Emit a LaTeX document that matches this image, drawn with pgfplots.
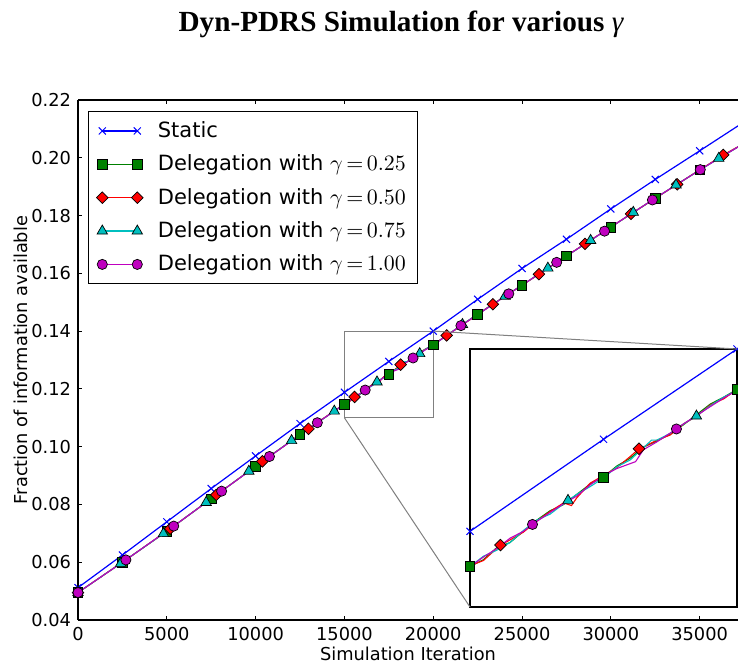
\documentclass[border=0pt]{standalone}
\usepackage[no-math]{fontspec}
\setmainfont{DejaVu Sans}
\newfontfamily\titlefont{Liberation Serif}
\usepackage{pgfplots}
\pgfplotsset{compat=1.18}
\usepackage{pgfplotstable}

\definecolor{mgreen}{rgb}{0,0.5,0}
\definecolor{mcyan}{rgb}{0,0.75,0.75}
\definecolor{mmag}{rgb}{0.75,0,0.75}

% static strategy
\pgfplotstableread{
x y
0 0.0512
2500 0.0625
5000 0.0740
7500 0.0855
10000 0.0968
12500 0.1080
15000 0.1188
17500 0.1295
20000 0.1400
22500 0.1510
25000 0.1617
27500 0.1718
30000 0.1823
32500 0.1925
35000 0.2024
37500 0.2124
}\staticline
\pgfplotstableread{
x y
0 0.0512
2500 0.0625
5000 0.0740
7500 0.0855
10000 0.0968
12500 0.1080
15000 0.1188
17500 0.1295
20000 0.1400
22500 0.1510
25000 0.1617
27500 0.1718
30000 0.1823
32500 0.1925
35000 0.2024
}\staticmarks

% gamma = 0.25
\pgfplotstableread{
x y
0 0.0495
2500 0.0600
5000 0.0707
7500 0.0820
10000 0.0932
12500 0.1042
15000 0.1147
15250 0.1155
15500 0.1169
15750 0.1175
16000 0.1188
16250 0.1201
16500 0.1212
16750 0.1219
17000 0.1231
17250 0.1243
17500 0.1251
17750 0.1264
18000 0.1273
18250 0.1286
18500 0.1293
18750 0.1301
19000 0.1312
19250 0.1324
19500 0.1336
19750 0.1344
20000 0.1353
22500 0.1459
25000 0.1559
27500 0.1660
30000 0.1760
32500 0.1860
35000 0.1958
37500 0.2050
}\gaaline
\pgfplotstableread{
x y
0 0.0495
2500 0.0600
5000 0.0707
7500 0.0820
10000 0.0932
12500 0.1042
15000 0.1147
17500 0.1251
20000 0.1353
22500 0.1459
25000 0.1559
27500 0.1660
30000 0.1760
32500 0.1860
35000 0.1958
}\gaamarks

% gamma = 0.50
\pgfplotstableread{
x y
0 0.0495
2595 0.0604
5190 0.0716
7785 0.0833
10380 0.0949
12975 0.1062
15000 0.1148
15250 0.1154
15570 0.1172
15750 0.1178
16000 0.1187
16250 0.1200
16500 0.1211
16750 0.1221
16900 0.1218
17000 0.1227
17250 0.1244
17500 0.1253
17750 0.1262
18000 0.1275
18165 0.1284
18250 0.1286
18500 0.1294
18750 0.1300
19000 0.1313
19250 0.1322
19500 0.1335
19750 0.1342
20000 0.1353
20760 0.1385
23355 0.1493
25950 0.1597
28545 0.1702
31140 0.1806
33735 0.1908
36330 0.2010
37500 0.2050
}\gabline
\pgfplotstableread{
x y
0 0.0495
2595 0.0604
5190 0.0716
7785 0.0833
10380 0.0949
12975 0.1062
15570 0.1172
18165 0.1284
20760 0.1385
23355 0.1493
25950 0.1597
28545 0.1702
31140 0.1806
33735 0.1908
36330 0.2010
}\gabmarks

% gamma = 0.75
\pgfplotstableread{
x y
0 0.0495
2405 0.0596
4810 0.0699
7215 0.0807
9620 0.0915
12025 0.1021
14430 0.1123
15000 0.1147
15250 0.1159
15500 0.1166
15750 0.1175
16000 0.1189
16250 0.1201
16500 0.1208
16835 0.1224
17000 0.1231
17250 0.1240
17500 0.1250
17750 0.1263
18000 0.1271
18400 0.1294
18500 0.1294
18750 0.1302
19000 0.1313
19240 0.1322
19500 0.1334
19750 0.1344
20000 0.1352
21645 0.1423
24050 0.1521
26455 0.1618
28860 0.1714
31265 0.1811
33670 0.1906
36075 0.1998
37500 0.2050
}\gacline
\pgfplotstableread{
x y
0 0.0495
2405 0.0596
4810 0.0699
7215 0.0807
9620 0.0915
12025 0.1021
14430 0.1123
16835 0.1224
19240 0.1322
21645 0.1423
24050 0.1521
26455 0.1618
28860 0.1714
31265 0.1811
33670 0.1906
36075 0.1998
}\gacmarks

% gamma = 1.00
\pgfplotstableread{
x y
0 0.0495
2695 0.0608
5390 0.0725
8085 0.0846
10780 0.0966
13475 0.1083
15000 0.1147
15250 0.1158
15500 0.1168
15750 0.1180
16000 0.1188
16170 0.1196
16500 0.1210
16750 0.1220
17000 0.1229
17250 0.1242
17500 0.1253
17750 0.1261
18100 0.1269
18250 0.1283
18500 0.1292
18865 0.1307
19000 0.1313
19250 0.1323
19500 0.1333
19750 0.1343
20000 0.1352
21560 0.1419
24255 0.1529
26950 0.1638
29645 0.1746
32340 0.1854
35035 0.1959
37500 0.2050
}\gadline
\pgfplotstableread{
x y
0 0.0495
2695 0.0608
5390 0.0725
8085 0.0846
10780 0.0966
13475 0.1083
16170 0.1196
18865 0.1307
21560 0.1419
24255 0.1529
26950 0.1638
29645 0.1746
32340 0.1854
35035 0.1959
}\gadmarks

\pgfplotsset{
  stat/.style={blue, line width=0.6pt, mark=x, mark size=2.5pt, mark options={line width=0.5pt}},
  gsq/.style={mgreen, line width=0.55pt, mark=square*, mark size=2.4pt,
    mark options={fill=mgreen, draw=black, line width=0.35pt}},
  rdi/.style={red, line width=0.55pt, mark=square*, mark size=2.05pt,
    mark options={rotate=45, fill=red, draw=black, line width=0.35pt}},
  ctr/.style={mcyan, line width=0.55pt, mark=triangle*, mark size=3pt,
    mark options={fill=mcyan, draw=black, line width=0.35pt}},
  mci/.style={mmag, line width=0.55pt, mark=*, mark size=2.55pt,
    mark options={fill=mmag, draw=black, line width=0.35pt}},
}

\begin{document}
\begin{tikzpicture}
\useasboundingbox (0,0) rectangle (369pt,332.5pt);

\node[anchor=base] at (200.5pt,316.7pt)
  {\titlefont\fontsize{14.6}{16}\selectfont\bfseries Dyn-PDRS Simulation for various {\mdseries\itshape γ}};

\begin{axis}[
  name=main,
  at={(39pt,22.5pt)}, anchor=south west,
  scale only axis, width=330pt, height=260pt,
  xmin=0, xmax=37160, ymin=0.04, ymax=0.22,
  axis x line*=box, axis y line*=left,
  xtick={0,5000,10000,15000,20000,25000,30000,35000},
  ytick={0.04,0.06,0.08,0.10,0.12,0.14,0.16,0.18,0.20,0.22},
  scaled x ticks=false, scaled y ticks=false,
  /pgf/number format/assume math mode=true,
  xticklabel style={/pgf/number format/.cd, 1000 sep={}},
  yticklabel style={/pgf/number format/.cd, fixed, fixed zerofill, precision=2},
  tick label style={font=\fontsize{8.9}{10}\selectfont},
  label style={font=\fontsize{8.9}{10}\selectfont},
  xlabel={Simulation Iteration},
  ylabel={Fraction of information available},
  xlabel style={yshift=3.5pt},
  ylabel shift=-5pt,
  tick align=inside, major tick length=2pt,
  every tick/.style={black, line width=0.5pt},
  axis line style={line width=0.6pt},
  legend cell align=left,
  legend image code/.code={\draw[#1] plot coordinates {(0pt,0pt) (17.5pt,0pt)};
    \path (25.5pt,0pt);},
  legend style={at={(0,1)}, anchor=north west, xshift=5pt, yshift=-5.5pt,
    draw=black, line width=0.5pt, font=\fontsize{10.5}{12}\selectfont,
    row sep=3.2pt, inner xsep=4pt, inner ysep=3pt},
]
\draw[gray, line width=0.5pt] (axis cs:15000,0.11) rectangle (axis cs:20000,0.14);
\coordinate (zr) at (axis cs:20000,0.14);
\coordinate (zl) at (axis cs:15000,0.11);

\addplot[stat, mark=none, forget plot] table {\staticline};
\addplot[stat, only marks, forget plot] table {\staticmarks};
\addplot[gsq, mark=none, forget plot] table {\gaaline};
\addplot[gsq, only marks, forget plot] table {\gaamarks};
\addplot[rdi, mark=none, forget plot] table {\gabline};
\addplot[rdi, only marks, forget plot] table {\gabmarks};
\addplot[ctr, mark=none, forget plot] table {\gacline};
\addplot[ctr, only marks, forget plot] table {\gacmarks};
\addplot[mci, mark=none, forget plot] table {\gadline};
\addplot[mci, only marks, forget plot] table {\gadmarks};

\addlegendimage{stat}
\addlegendentry{Static}
\addlegendimage{gsq}
\addlegendentry{Delegation with $\gamma\,{=}\,0.25$}
\addlegendimage{rdi}
\addlegendentry{Delegation with $\gamma\,{=}\,0.50$}
\addlegendimage{ctr}
\addlegendentry{Delegation with $\gamma\,{=}\,0.75$}
\addlegendimage{mci}
\addlegendentry{Delegation with $\gamma\,{=}\,1.00$}
\end{axis}

\begin{axis}[
  name=inset,
  at={(235pt,29pt)}, anchor=south west,
  scale only axis, width=133.5pt, height=129pt,
  xmin=15000, xmax=20000, ymin=0.11, ymax=0.14,
  xtick=\empty, ytick=\empty,
  axis line style={line width=0.6pt},
  axis background/.style={fill=white},
]
\addplot[stat, mark=none] table {\staticline};
\addplot[stat, only marks] table {\staticmarks};
\addplot[gsq, mark=none] table {\gaaline};
\addplot[gsq, only marks] table {\gaamarks};
\addplot[rdi, mark=none] table {\gabline};
\addplot[rdi, only marks] table {\gabmarks};
\addplot[ctr, mark=none] table {\gacline};
\addplot[ctr, only marks] table {\gacmarks};
\addplot[mci, mark=none] table {\gadline};
\addplot[mci, only marks] table {\gadmarks};
\end{axis}

\draw[gray, line width=0.5pt] (zr) -- (inset.north east);
\draw[gray, line width=0.5pt] (zl) -- (inset.south west);
\end{tikzpicture}
\end{document}
